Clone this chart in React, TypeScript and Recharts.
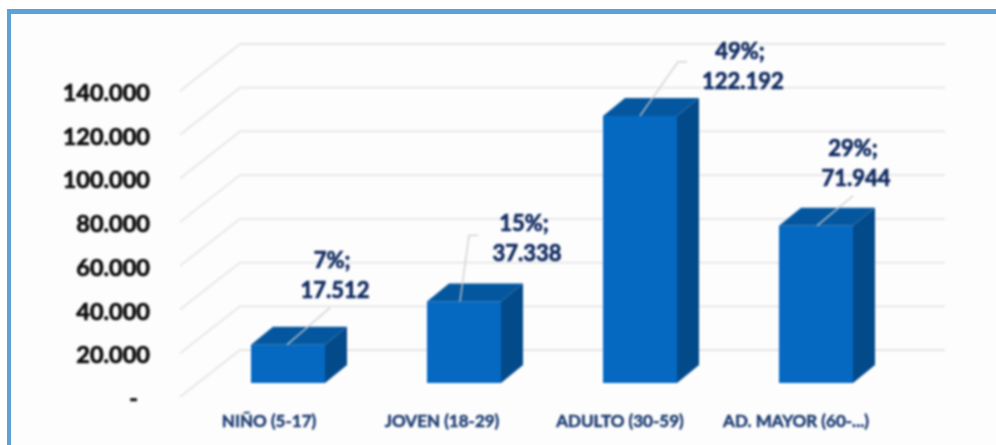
import React from "react";
import { BarChart, Bar, XAxis, YAxis, CartesianGrid, LabelList } from "recharts";

const categories = ["NIÑO (5-17)", "JOVEN (18-29)", "ADULTO (30-59)", "AD. MAYOR (60-...)"];
const values = [17512, 37338, 122192, 71944];
const percents = ["7%;", "15%;", "49%;", "29%;"];
const yTicks = [0, 20000, 40000, 60000, 80000, 100000, 120000, 140000];

const rows = categories.map((name, i) => ({ name, value: values[i], pct: percents[i] }));

// layout of the 3D projection and of the call-outs (pixels, not data)
const DEPTH_X = 22;
const DEPTH_Y = 18;
const FLOOR_FRONT = 14;
const WALL_BACK = 33;
const FONT = "Lato, Carlito, sans-serif";
const callouts = [
  { lx: 47, ly: -47, pts: [[-1, 0], [42, -37]] },
  { lx: 63, ly: -40, pts: [[-4, 0], [5, -66], [14, -66]] },
  { lx: 103, ly: -27, pts: [[0, 0], [38, -54], [47, -54]] },
  { lx: 40, ly: -40, pts: [[1, 0], [37, -30]] },
];
const xShift = [-19, -22, -20, -20];

const fmt = (v: number) => (v === 0 ? "-" : v.toLocaleString("de-DE"));

const Box = (p: any) => {
  const { x, y, width, height } = p;
  const r = x + width;
  const b = y + height;
  return (
    <g>
      <path d={`M${x} ${y}L${x + DEPTH_X} ${y - DEPTH_Y}H${r + DEPTH_X}L${r} ${y}Z`} fill="#04579f" />
      <path d={`M${r} ${y}L${r + DEPTH_X} ${y - DEPTH_Y}V${b - DEPTH_Y}L${r} ${b}Z`} fill="#034a8a" />
      <rect x={x} y={y} width={width} height={height} fill="#0669c1" />
    </g>
  );
};

const GridLine = (p: any) => {
  const { x1, x2, y1 } = p;
  return (
    <polyline
      key={`g${y1}`}
      points={`${x1 - 20},${y1 + FLOOR_FRONT} ${x1 + 40},${y1 - WALL_BACK} ${x2 + 41},${y1 - WALL_BACK}`}
      fill="none"
      stroke="#e6e6e6"
      strokeWidth={1.8}
    />
  );
};

const YTick = (p: any) => {
  const { x, y, payload } = p;
  const zero = payload.value === 0;
  return (
    <text x={zero ? x - 12 : x} y={y + FLOOR_FRONT + 10} textAnchor="end" fontFamily={FONT} fontWeight={700} fontSize={23.5} fill="#0c0c0c" stroke="#0c0c0c" strokeWidth={0.7}>
      {fmt(payload.value)}
    </text>
  );
};

const XTick = (p: any) => {
  const { x, y, payload, index } = p;
  return (
    <text x={x + xShift[index]} y={y + 36} textAnchor="middle" fontFamily={FONT} fontWeight={700} fontSize={17} fill="#1c3c72" stroke="#1c3c72" strokeWidth={0.5}>
      {payload.value}
    </text>
  );
};

const Callout = (p: any) => {
  const { x, y, width, index, value } = p;
  const c = callouts[index];
  const cx = x + width / 2;
  const line = c.pts.map(([a, b]) => `${cx + a},${y + b}`).join(" ");
  const style = { fontFamily: FONT, fontWeight: 700, fontSize: 22, fill: "#122c62", stroke: "#122c62", strokeWidth: 0.7 };
  return (
    <g>
      <polyline points={line} fill="none" stroke="#c9cdd2" strokeWidth={1.3} />
      <text x={cx + c.lx - 3} y={y + c.ly - 30} textAnchor="middle" {...style}>{percents[index]}</text>
      <text x={cx + c.lx} y={y + c.ly} textAnchor="middle" {...style}>{fmt(value)}</text>
    </g>
  );
};

export default function App() {
  return (
    <div style={{ position: "absolute", left: 0, top: 0, width: 996, height: 445, background: "#fff", overflow: "hidden" }}>
      <div style={{ position: "absolute", left: 7, top: 9, width: 989, height: 436, boxSizing: "border-box", borderTop: "5px solid #5ba2d8", borderLeft: "4px solid #5ba2d8", background: "#fdfdfd" }} />
      <div style={{ position: "absolute", left: 0, top: 0, filter: "blur(0.9px)" }}>
        <BarChart width={996} height={445} data={rows} margin={{ top: 77, right: 92, bottom: 0, left: 0 }} barCategoryGap={0}>
          <CartesianGrid vertical={false} horizontal={GridLine} horizontalValues={yTicks} />
          <XAxis dataKey="name" height={62} axisLine={false} tickLine={false} tick={XTick} interval={0} />
          <YAxis width={200} domain={[0, 140000]} ticks={yTicks} axisLine={false} tickLine={false} tick={(p: any) => <YTick {...p} x={150} />} interval={0} />
          <Bar dataKey="value" barSize={74} shape={Box} isAnimationActive={false}>
            <LabelList dataKey="value" content={Callout} />
          </Bar>
        </BarChart>
      </div>
    </div>
  );
}
